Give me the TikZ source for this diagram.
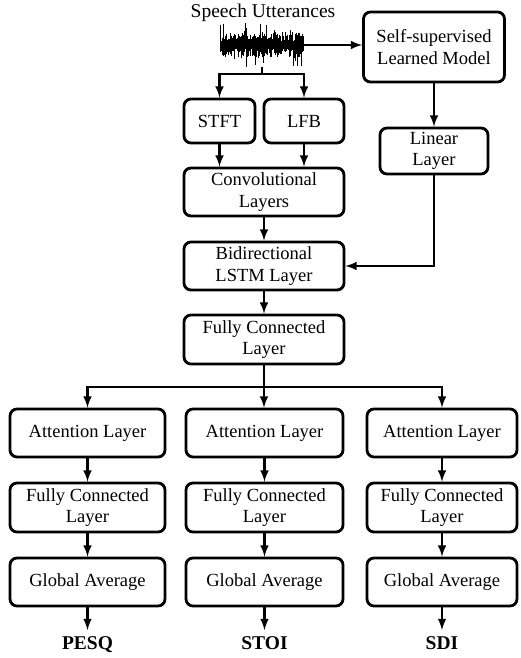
\documentclass[tikz,border=0pt]{standalone}
\usepackage{fontspec}
\setmainfont{Liberation Serif}
\usepackage{tikz}
\usetikzlibrary{positioning}

\begin{document}
\begin{tikzpicture}
    [
    x=1pt, y=-1pt,
    block/.style={rectangle,draw,rounded corners=7pt,line width=2.8pt,align=center,inner sep=0pt,
      font=\fontsize{18.5}{21.5}\selectfont},
    conn/.style={line width=2.8pt},
    metric/.style={anchor=north,inner sep=6pt,font=\fontsize{19.5}{22}\selectfont\bfseries}
    ]
    \useasboundingbox (0,0) rectangle (520,658);

    \node (title) at (263,18) [anchor=base, inner sep=0pt, font=\fontsize{19.5}{22}\selectfont] {Speech Utterances};
    \node (wave) at (262,45) [inner sep=0pt, minimum width=84pt, minimum height=44pt] {};
    \pgfmathsetseed{11}
    \foreach \i in {0,...,104} {
      \pgfmathsetmacro{\wx}{220.5+0.8*\i}
      \pgfmathsetmacro{\wup}{4+9*rnd+10*(rnd>0.86)}
      \pgfmathsetmacro{\wdn}{4+9*rnd+9*(rnd>0.88)}
      \draw [line width=0.9pt] (\wx,45-\wup) -- (\wx,45+\wdn);
    }

    \node (ssl) at (434,47) [block, minimum width=141pt, minimum height=70pt] {Self-supervised\\Learned Model};
    \node (stft) at (219.5,121) [block, minimum width=71pt, minimum height=44pt] {STFT};
    \node (lfb) at (304,121) [block, minimum width=80pt, minimum height=44pt] {LFB};
    \node (linear) at (434,151) [block, minimum width=108pt, minimum height=46pt] {Linear\\Layer};
    \node (conv) at (264,192) [block, minimum width=160pt, minimum height=48pt] {Convolutional\\Layers};
    \node (bilstm) at (264,266) [block, minimum width=160pt, minimum height=48pt] {Bidirectional\\LSTM Layer};
    \node (fc) at (264,339.5) [block, minimum width=160pt, minimum height=49pt] {Fully Connected\\Layer};

    \node (att1) at (87.5,433) [block, minimum width=155pt, minimum height=48pt] {Attention Layer};
    \node (att2) at (264.5,433) [block, minimum width=157pt, minimum height=48pt] {Attention Layer};
    \node (att3) at (442,433) [block, minimum width=150pt, minimum height=48pt] {Attention Layer};
    \node (fc1) at (87.5,507.5) [block, minimum width=155pt, minimum height=49pt] {Fully Connected\\Layer};
    \node (fc2) at (264.5,507.5) [block, minimum width=157pt, minimum height=49pt] {Fully Connected\\Layer};
    \node (fc3) at (442,507.5) [block, minimum width=150pt, minimum height=49pt] {Fully Connected\\Layer};
    \node (ga1) at (87.5,582) [block, minimum width=155pt, minimum height=48pt] {Global Average};
    \node (ga2) at (264.5,582) [block, minimum width=157pt, minimum height=48pt] {Global Average};
    \node (ga3) at (442,582) [block, minimum width=150pt, minimum height=48pt] {Global Average};
    \node (pesq) at (87.5,630) [metric] {PESQ};
    \node (stoi) at (264.5,630) [metric] {STOI};
    \node (sdi) at (442,630) [metric] {SDI};

    \coordinate (split1) at (262,74);
    \coordinate (split2) at (264,387);

    \draw [conn, -latex] (wave.east) -- (ssl.west |- wave.east);
    \draw [conn] (wave.south) -- (split1);
    \draw [conn, -latex] (split1) -| (stft);
    \draw [conn, -latex] (split1) -| (lfb);
    \draw [conn, -latex] (stft) -- (conv.north -| stft);
    \draw [conn, -latex] (lfb) -- (conv.north -| lfb);
    \draw [conn, -latex] (ssl) -- (linear);
    \draw [conn, -latex] (linear) |- (bilstm);
    \draw [conn, -latex] (conv) -- (bilstm);
    \draw [conn, -latex] (bilstm) -- (fc);
    \draw [conn] (fc) -- (split2);
    \draw [conn, -latex] (split2) -| (att1);
    \draw [conn, -latex] (split2) -- (att2.north -| split2);
    \draw [conn, -latex] (split2) -| (att3);
    \draw [conn, -latex] (att1) -- (fc1);
    \draw [conn, -latex] (att2) -- (fc2);
    \draw [conn, -latex] (att3) -- (fc3);
    \draw [conn, -latex] (fc1) -- (ga1);
    \draw [conn, -latex] (fc2) -- (ga2);
    \draw [conn, -latex] (fc3) -- (ga3);
    \draw [conn, -latex] (ga1) -- (pesq);
    \draw [conn, -latex] (ga2) -- (stoi);
    \draw [conn, -latex] (ga3) -- (sdi);
\end{tikzpicture}
\end{document}
